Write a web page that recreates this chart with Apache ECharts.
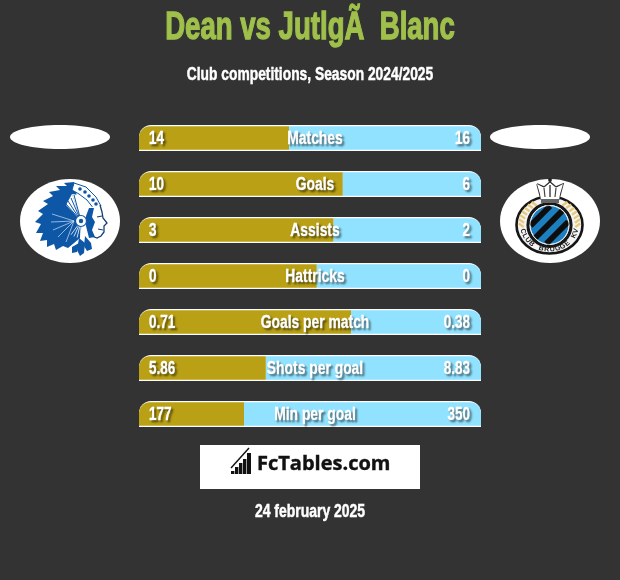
<!DOCTYPE html>
<html><head><meta charset="utf-8">
<style>html,body{margin:0;padding:0;background:#333}#c{width:620px;height:580px}</style>
<script src="https://cdn.jsdelivr.net/npm/echarts@6/dist/echarts.min.js"></script></head>
<body><div id="c"></div>
<script>
var categories = ['Matches','Goals','Assists','Hattricks','Goals per match','Shots per goal','Min per goal'];
var leftLabels = ['14','10','3','0','0.71','5.86','177'];
var rightLabels = ['16','6','2','0','0.38','8.83','350'];
var leftShare = [43.9,59.6,56.9,52.0,62.0,37.1,30.7];
var rightShare = [56.1,40.4,43.1,48.0,38.0,62.9,69.3];
var fullTrack = [100,100,100,100,100,100,100];

var FONT = '"Liberation Sans",sans-serif';
var g = [];
function txt(s,x,y,size,color,sx,sw){g.push({type:'text',x:x,y:y,z:20,silent:true,scaleX:sx,style:{text:s,fill:color,stroke:color,lineWidth:sw,font:'bold '+size+'px '+FONT,textAlign:'center',textVerticalAlign:'middle'}});}
function ell(cx,cy,rx,ry,fill){g.push({type:'ellipse',z:10,silent:true,shape:{cx:cx,cy:cy,rx:rx,ry:ry},style:{fill:fill}});}
function path(d,fill,stroke,w){g.push({type:'polyline',z:14,silent:true,shape:{points:d},style:{fill:fill||'none',stroke:stroke||'none',lineWidth:w||0}});}
function poly(pts,fill,z){g.push({type:'polygon',z:z||12,silent:true,shape:{points:pts},style:{fill:fill}});}
function line(x1,y1,x2,y2,c,w,z){g.push({type:'line',z:z||13,silent:true,shape:{x1:x1,y1:y1,x2:x2,y2:y2},style:{stroke:c,lineWidth:w}});}
function circ(cx,cy,r,fill,stroke,w,z){g.push({type:'circle',z:z||12,silent:true,shape:{cx:cx,cy:cy,r:r},style:{fill:fill||'none',stroke:stroke||'none',lineWidth:w||0}});}

// header
txt('Dean vs JutlgÃ  Blanc',310,28,39,'#9fc04a',0.707,1.3);
txt('Club competitions, Season 2024/2025',310,75,19,'#ffffff',0.727,0.5);
txt('24 february 2025',310,512,19,'#ffffff',0.735,0.5);

// ovals
ell(60,137,50,12,'#fff'); ell(540,137,50,12,'#fff');
ell(70,221,50,42,'#fff'); ell(550,221,50,42,'#fff');

// Gent crest
var BLUE='#0d57a6';
poly([[82,222],[74,182],[64,183],[67,186],[56,186],[60,190],[49,192],[53,196],[43,201],[48,204],[38,211],[43,214],[35,222],[41,224],[36,233],[43,233],[40,241],[47,240],[47,247],[54,244],[56,250],[63,246],[68,248],[80,238]],BLUE);
poly([[72,247],[79,243],[77,252],[72,253]],BLUE);
poly([[79,238],[85,243],[84,253],[80,256],[77,250]],BLUE);
poly([[85,236],[91,243],[92,249],[87,251],[84,246]],BLUE);
// pale inner part of the feathers
poly([[81,221],[72,194],[85,196],[92,208]],'#fff',13);
poly([[81,221],[66,205],[72,194]],'#fff',13);
[[74,195],[71,198],[68,201],[66,204]].forEach(function(f){line(f[0],f[1],81,221,BLUE,1,13);});
[[52,214],[51,222],[53,230],[58,237],[66,242]].forEach(function(f){line(f[0],f[1],74,221,'#cfe0f2',0.7,13);});
// headdress band
poly([[74,183],[86,187],[96,197],[101,206],[94,209],[87,200],[79,194],[72,190]],'#fff',14);
path([[74,183],[86,187],[96,197],[101,206],[94,209],[87,200],[79,194],[72,190],[74,183]],'none',BLUE,1);
[[80,189],[85,192],[89,196],[93,200],[96,204]].forEach(function(q){circ(q[0],q[1],1.8,BLUE,null,0,15);});
// face
poly([[92,207],[100,205],[102,212],[103,218],[107,222],[105,226],[104,231],[102,236],[97,238],[92,236],[87,230],[86,218]],'#fff',14);
path([[100,205],[102,212],[103,218],[107,223],[104,226],[104,232],[101,236],[97,238],[92,236]],'none','#123f78',1.3);
poly([[89,208],[94,208],[92,217],[95,222],[92,230],[95,237],[89,238],[86,226],[86,216]],BLUE,15);
line(97,217,102,216,'#123f78',1.2,15); line(98,229,103,230,'#123f78',1,15);
circ(81,221,5.5,'#fff',BLUE,1.2,15); circ(81,221,2.2,BLUE,null,0,16);
for(var i=0;i<5;i++){var a=1.4+i*0.2;line(81+6*Math.cos(a),221+6*Math.sin(a),81+17*Math.cos(a),221+17*Math.sin(a),'#fff',0.8,15);}

// Brugge crest
var cx=549.5,cy=225;
g.push({type:'ellipse',z:12,silent:true,shape:{cx:cx,cy:cy,rx:33,ry:28.5},style:{fill:'#f4f4f4',stroke:'#161616',lineWidth:2.6}});
[-1,1].forEach(function(s){for(var k=0;k<7;k++){var a=-1.0+k*0.17;var x=cx+s*28*Math.cos(a),y=cy+25*Math.sin(a);line(x-s*2.2,y+1.5,x+s*2.8,y-2,'#e8c97c',2.4,13);}});
circ(cx,cy,21.5,'#fff','#161616',3.2,13);
circ(cx,cy,19,'#1c7fc0',null,0,13);
[-13,-1,11].forEach(function(off){var R=19,h=Math.sqrt(Math.max(R*R-off*off,0)),ux=0.707,uy=-0.707,nx=0.707,ny=0.707;
 line(cx+nx*off-ux*h,cy+ny*off-uy*h,cx+nx*off+ux*h,cy+ny*off+uy*h,'#0e0e0e',5.8,14);});
circ(cx,cy,19.5,'none','#dfe8ee',0.8,15);
// crown
poly([[537,184],[540,194],[541,200],[559,200],[560,194],[563,184],[556,188],[550,183],[544,188]],'#fff',16);
path([[537,184],[541,199],[559,199],[563,184],[556,187],[550,182],[544,187],[537,184]],'none','#333',1.5);
g.push({type:'rect',z:16,silent:true,shape:{x:541,y:199,width:18,height:4},style:{fill:'#666'}});
circ(550,180,1.9,'#222',null,0,16);
line(550,185,550,197,'#444',1.5,16); line(544,188,545,197,'#444',1.2,16); line(556,188,555,197,'#444',1.2,16);
// curved name
var word='CLUB BRUGGE KV';
for(var n=0;n<word.length;n++){
 var th=Math.PI*0.92-n*(Math.PI*0.84/(word.length-1));
 var lx=cx+27.3*Math.cos(th),ly=cy+24.5*Math.sin(th);
 g.push({type:'text',x:lx,y:ly,z:16,silent:true,rotation:Math.PI/2-th,style:{text:word[n],fill:'#222',font:'bold 7px "Liberation Sans",sans-serif',textAlign:'center',textVerticalAlign:'middle'}});}

// FcTables box
g.push({type:'rect',z:10,silent:true,shape:{x:200,y:445,width:220,height:44},style:{fill:'#fff'}});
[[231,471,3.4,3],[235,467,3.4,7],[239,463,3.4,11],[243,459,3.4,15],[247,453,4,21]].forEach(function(b){g.push({type:'rect',z:12,silent:true,shape:{x:b[0],y:b[1],width:b[2],height:b[3]},style:{fill:'#111'}});});
line(231,468,249,448,'#111',1.4);
g.push({type:'text',x:257,y:464.5,z:12,silent:true,style:{text:'FcTables.com',fill:'#111',stroke:'#111',lineWidth:0.4,font:'bold 20px "Open Sans",sans-serif',textAlign:'left',textVerticalAlign:'middle'}});

function textLayer(name,labels,xValue,dx,align,sx){
  return {name:name,type:'custom',yAxisIndex:2,z:5,silent:true,clip:false,
    data:categories.map(function(c,i){return [xValue,c,labels[i]];}),
    encode:{x:0,y:1},
    renderItem:function(params,api){
      var pt=api.coord([api.value(0),api.value(1)]);
      return {type:'text',x:pt[0]+dx,y:pt[1]+1,scaleX:sx,
        style:{text:labels[params.dataIndex],fill:'#fff',stroke:'#fff',lineWidth:0.5,font:'bold 19px '+FONT,
          textAlign:align,textVerticalAlign:'middle',
          textShadowColor:'rgba(0,0,0,0.45)',textShadowBlur:2,textShadowOffsetX:2,textShadowOffsetY:2}};
    }};
}
var cat = function(){return {type:'category',data:categories,inverse:true,show:false};};
echarts.init(document.getElementById('c'),null,{renderer:'canvas'}).setOption({
  animation:false,
  backgroundColor:'#333333',
  grid:{left:139,top:115,width:342,height:322},
  xAxis:{type:'value',min:0,max:100,show:false},
  yAxis:[cat(),cat(),cat()],
  graphic:g,
  series:[
    {name:'track',type:'bar',yAxisIndex:0,data:fullTrack,barWidth:26,z:1,silent:true,
     itemStyle:{color:'#fff',borderRadius:[12,12,0,0]}},
    {name:'left',type:'bar',yAxisIndex:1,stack:'s',data:leftShare,barWidth:23.5,z:2,silent:true,
     itemStyle:{color:'#b9a014',borderRadius:[11,0,0,0]}},
    {name:'right',type:'bar',yAxisIndex:1,stack:'s',data:rightShare,barWidth:23.5,z:2,silent:true,
     itemStyle:{color:'#90e2ff',borderRadius:[0,11,0,0]}},
    textLayer('leftText',leftLabels,0,10,'left',0.71),
    textLayer('rightText',rightLabels,100,-11,'right',0.71),
    textLayer('names',categories,50,5,'center',0.73)
  ]
});
</script></body></html>
